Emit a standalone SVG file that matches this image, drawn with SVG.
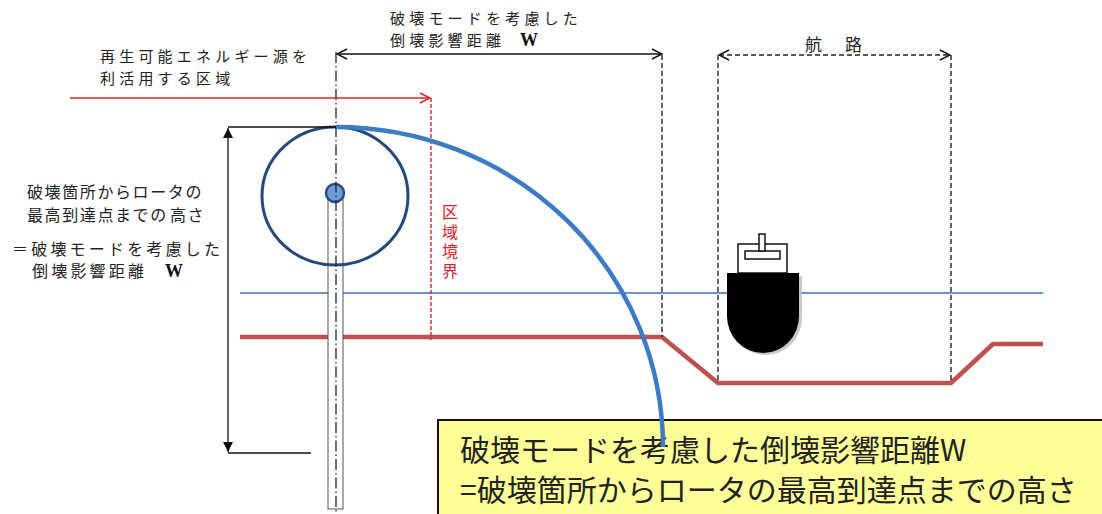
<svg xmlns="http://www.w3.org/2000/svg" width="1102" height="514" viewBox="0 0 1102 514">
  <style>
    .jp { font-family: "Noto Sans CJK JP", "Noto Sans", sans-serif; fill: #222; }
    .lbl { font-size: 16px; letter-spacing: 3.2px; }
    .top { font-size: 15px; letter-spacing: 4.2px; }
    .w { font-family: "Liberation Serif", serif; font-weight: bold; font-size: 18px; fill: #111; letter-spacing: 0; }
    .red { fill: #e0202a; }
    .dim { stroke: #111; stroke-width: 1.3; fill: none; }
    .dash { stroke: #222; stroke-width: 1.4; stroke-dasharray: 5 3; fill: none; }
    .center { stroke: #222; stroke-width: 1.3; stroke-dasharray: 11 3 1.5 3; fill: none; }
  </style>
  <defs>
    <marker id="open" viewBox="0 0 12 12" refX="11" refY="6" markerWidth="12" markerHeight="12" markerUnits="userSpaceOnUse" orient="auto-start-reverse">
      <path d="M1,1 L11,6 L1,11" fill="none" stroke="#111" stroke-width="1.4"/>
    </marker>
    <marker id="openRed" viewBox="0 0 12 12" refX="11" refY="6" markerWidth="12" markerHeight="12" markerUnits="userSpaceOnUse" orient="auto">
      <path d="M1,1 L11,6 L1,11" fill="none" stroke="#e0202a" stroke-width="1.4"/>
    </marker>
    <marker id="solid" viewBox="0 0 10 10" refX="10" refY="5" markerWidth="10" markerHeight="10" markerUnits="userSpaceOnUse" orient="auto-start-reverse">
      <path d="M0,0 L10,5 L0,10 Z" fill="#111"/>
    </marker>
  </defs>

  <rect width="1102" height="514" fill="#ffffff"/>

  <!-- sea surface -->
  <line id="water" x1="240" y1="293" x2="1043" y2="293" stroke="#2e75b6" stroke-width="1.6"/>

  <!-- seabed with dredged channel -->
  <polyline id="seabed" points="240,337 662,337 718,383 951,383 993,344 1043,344" fill="none" stroke="#c0504d" stroke-width="4.5" stroke-linejoin="round"/>

  <!-- turbine -->
  <g id="turbine">
    <rect x="328" y="198" width="15" height="311" fill="#ffffff" stroke="#555" stroke-width="1"/>
    <ellipse cx="335" cy="196" rx="73" ry="69" fill="none" stroke="#244a7c" stroke-width="3"/>
    <circle cx="335" cy="193" r="9" fill="#6f9bd8" stroke="#2a4d80" stroke-width="2.5"/>
  </g>

  <!-- ship -->
  <g id="ship">
    <rect x="738" y="244" width="49" height="29" fill="#fff" stroke="#111" stroke-width="1.5"/>
    <rect x="745" y="251" width="35" height="8" fill="#fff" stroke="#111" stroke-width="1.5"/>
    <rect x="759" y="234" width="6" height="17" fill="#fff" stroke="#111" stroke-width="1.5"/>
    <path d="M730,276 H802 V318 A36,37 0 0 1 730,318 Z" fill="#bbbbbb" opacity="0.8"/>
    <path d="M727,273 H799 V316 A36,37 0 0 1 727,316 Z" fill="#000"/>
  </g>

  <g id="connectors">
    <!-- centre line of the tower -->
    <line class="center" x1="336" y1="52" x2="336" y2="514"/>
    <!-- W dimension -->
    <line class="dim" x1="337" y1="54" x2="662" y2="54" marker-start="url(#open)" marker-end="url(#open)"/>
    <line class="dash" x1="662" y1="55" x2="662" y2="337"/>
    <!-- channel extent -->
    <line class="dash" x1="719" y1="55" x2="950" y2="55" marker-start="url(#open)" marker-end="url(#open)"/>
    <line class="dash" x1="718" y1="55" x2="718" y2="383"/>
    <line class="dash" x1="951" y1="55" x2="951" y2="383"/>
    <!-- area boundary -->
    <line x1="70" y1="98" x2="430" y2="98" stroke="#e0202a" stroke-width="1.5" marker-end="url(#openRed)"/>
    <line x1="431" y1="98" x2="431" y2="340" stroke="#e0202a" stroke-width="1.4" stroke-dasharray="4 2"/>
    <!-- height dimension -->
    <line class="dim" x1="228" y1="127" x2="336" y2="127"/>
    <line class="dim" x1="228" y1="453" x2="311" y2="453"/>
    <line class="dim" x1="228" y1="128" x2="228" y2="452" marker-start="url(#solid)" marker-end="url(#solid)"/>
  </g>

  <!-- note box -->
  <g id="note">
    <rect x="438" y="420" width="700" height="120" fill="#ffff99" stroke="#111" stroke-width="2"/>
    <text class="jp" font-size="30"><tspan x="460" y="461">破壊モードを考慮した倒壊影響距離W</tspan><tspan x="460" y="501">=破壊箇所からロータの最高到達点までの高さ</tspan></text>
  </g>

  <!-- fall-over trajectory of the rotor tip -->
  <path id="fall-arc" d="M336,127 A327,320 0 0 1 663,447" fill="none" stroke="#3d7cc4" stroke-width="4.5"/>

  <!-- labels -->
  <g id="label-w">
    <text class="jp top"><tspan x="390" y="24">破壊モードを考慮した</tspan><tspan x="390" y="46">倒壊影響距離</tspan><tspan class="w" x="520" y="46">W</tspan></text>
  </g>
  <g id="label-area">
    <text class="jp top"><tspan x="100" y="62">再生可能エネルギー源を</tspan><tspan x="100" y="84">利活用する区域</tspan></text>
  </g>
  <g id="label-boundary">
    <text class="jp red" font-size="16" writing-mode="vertical-rl" letter-spacing="3.5" x="450" y="204">区域境界</text>
  </g>
  <g id="label-channel">
    <text class="jp" font-size="17"><tspan x="805" y="51">航</tspan><tspan x="845" y="51">路</tspan></text>
  </g>
  <g id="label-height">
    <text class="jp" font-size="16" letter-spacing="1.6"><tspan x="27" y="198">破壊箇所からロータの</tspan><tspan x="27" y="221">最高到達点までの</tspan><tspan x="170" y="221">高さ</tspan></text>
    <text class="jp lbl"><tspan x="12" y="255">＝破壊モードを考慮した</tspan><tspan x="32" y="277">倒壊影響距離</tspan><tspan class="w" x="165" y="277">W</tspan></text>
  </g>
</svg>
